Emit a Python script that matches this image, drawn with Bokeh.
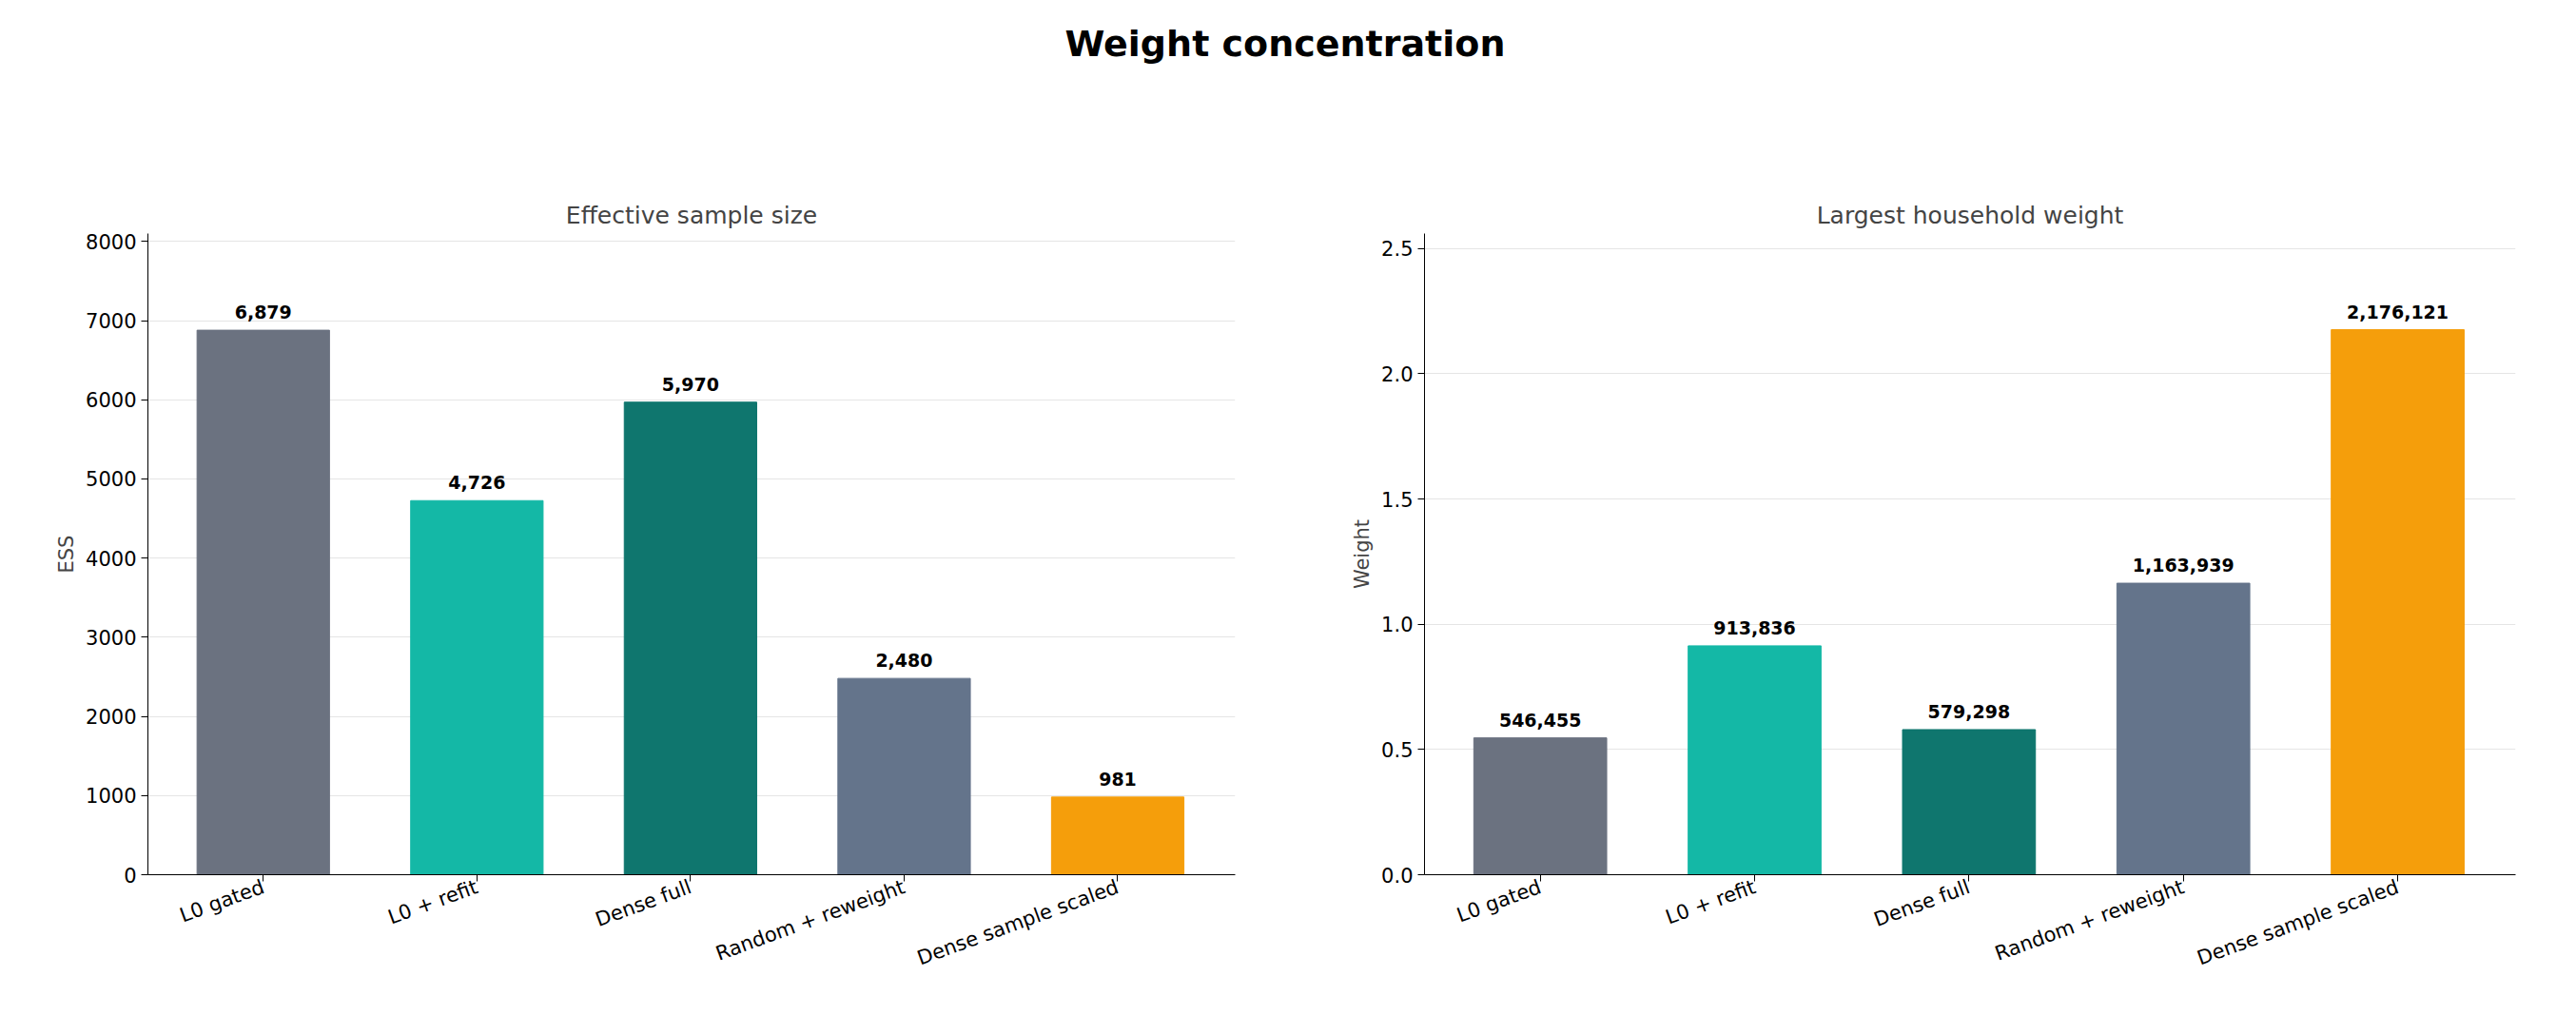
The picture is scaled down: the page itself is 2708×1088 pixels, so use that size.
from bokeh.plotting import figure
from bokeh.layouts import column, row
from bokeh.models import Div, ColumnDataSource, FixedTicker, Label, Range1d
from bokeh.embed import file_html
from bokeh.resources import INLINE

methods = ["L0 gated", "L0 + refit", "Dense full", "Random + reweight", "Dense sample scaled"]
colors = ["#6b7280", "#14b8a6", "#0f766e", "#64748b", "#f59e0b"]
ess = [6879, 4726, 5970, 2480, 981]
max_weight = [546455, 913836, 579298, 1163939, 2176121]

FONT = "DejaVu Sans"

def make(title, vals, scale, ymax, yticks, ylabel, left_border, fw):
    xs = list(range(len(methods)))
    ys = [v / scale for v in vals]
    src = ColumnDataSource(dict(x=xs, y=ys, c=colors,
                                lab=[f"{v:,}" for v in vals]))
    p = figure(frame_width=fw, frame_height=674, output_backend="svg",
               toolbar_location=None, title=title,
               x_range=Range1d(-0.54, 4.55), y_range=Range1d(0, ymax),
               min_border_left=left_border, min_border_right=50,
               min_border_top=135, min_border_bottom=10)
    p.vbar(x="x", top="y", width=0.62, color="c", source=src)
    p.text(x="x", y="y", text="lab", source=src, text_align="center",
           text_baseline="bottom", y_offset=-12, text_font_size="19px",
           text_font_style="bold", text_font={"value": FONT})
    p.title.align = "center"
    p.title.text_font = FONT
    p.title.text_font_size = "25px"
    p.title.text_font_style = "normal"
    p.outline_line_color = None
    p.xgrid.grid_line_color = None
    p.ygrid.grid_line_color = "#e5e5e5"
    p.xaxis.ticker = FixedTicker(ticks=xs)
    p.xaxis.major_label_overrides = {i: m for i, m in enumerate(methods)}
    p.xaxis.major_label_orientation = 0.35
    p.yaxis.ticker = FixedTicker(ticks=yticks)
    p.yaxis.axis_label = ylabel
    for ax in (p.xaxis, p.yaxis):
        ax.major_label_text_font = FONT
        ax.major_label_text_font_size = "21px"
        ax.major_label_text_color = "black"
        ax.axis_label_text_font = FONT
        ax.axis_label_text_font_size = "21px"
        ax.axis_label_text_font_style = "normal"
        ax.minor_tick_line_color = None
        ax.axis_line_color = "black"
        ax.major_tick_line_color = "black"
        ax.major_tick_out = 7
        ax.major_tick_in = 0
    return p

p1 = make("Effective sample size", ess, 1, 8100, list(range(0, 8001, 1000)), "ESS", 155, 1143)
p1.yaxis.formatter.use_scientific = False
p2 = make("Largest household weight", max_weight, 1e6, 2.56, [0, 0.5, 1.0, 1.5, 2.0, 2.5], "Weight", 149, 1147)
from bokeh.models import NumeralTickFormatter
p2.yaxis.formatter = NumeralTickFormatter(format="0.0")
p2.add_layout(Label(x=-0.54, y=2.56, text="1e6", text_font=FONT, text_font_size="21px",
                    text_baseline="bottom", y_offset=4))

title = Div(text="Weight concentration", width=2692, height=100,
            styles={"font-family": FONT, "font-size": "38px", "font-weight": "bold",
                    "text-align": "center", "width": "2692px", "padding-top": "14px"})
layout = column(title, row(p1, p2))
open("out.html", "w").write(file_html(layout, INLINE))
